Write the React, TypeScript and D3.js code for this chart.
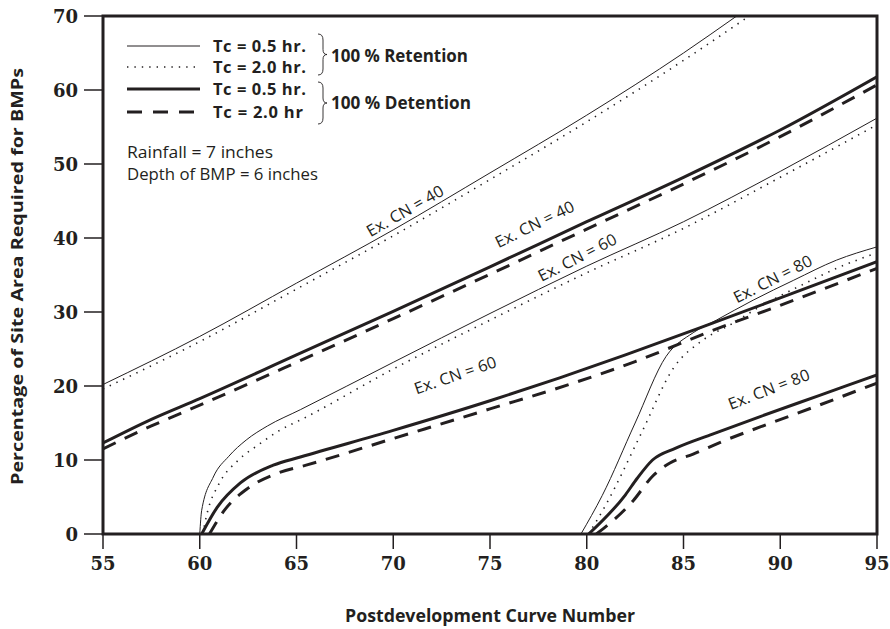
import React from "react";
import * as d3 from "d3";

// ---- Data ----
const xTicks = [55, 60, 65, 70, 75, 80, 85, 90, 95];
const yTicks = [0, 10, 20, 30, 40, 50, 60, 70];

// Existing CN = 40
const cn40RetTc05X = [55, 60, 65, 70, 75, 80, 85, 87.75];
const cn40RetTc05Y = [20.2, 26.7, 33.9, 41.1, 48.8, 56.6, 65.0, 70];
const cn40RetTc20X = [55, 60, 65, 70, 75, 80, 85, 88.4];
const cn40RetTc20Y = [19.6, 26.0, 33.1, 40.3, 47.9, 55.7, 64.0, 70];
const cn40DetTc05X = [55, 57.5, 60, 65, 70, 75, 80, 85, 90, 95];
const cn40DetTc05Y = [12.3, 15.5, 18.3, 24.2, 30.1, 36.1, 42.2, 48.2, 54.6, 61.8];
const cn40DetTc20X = [55, 57.5, 60, 65, 70, 75, 80, 85, 90, 95];
const cn40DetTc20Y = [11.5, 14.6, 17.4, 23.2, 29.1, 35.1, 41.2, 47.3, 53.7, 60.7];

// Existing CN = 60
const cn60RetTc05X = [60, 60.1, 60.7, 61.5, 62.4, 63.5, 65.2, 70, 75, 80, 85, 90, 95];
const cn60RetTc05Y = [0, 3.2, 7.7, 10.5, 12.7, 14.6, 16.8, 23.2, 29.8, 36.2, 42.2, 49.0, 56.2];
const cn60RetTc20X = [60.15, 60.4, 61, 62, 63, 64, 65.5, 70, 75, 80, 85, 90, 95];
const cn60RetTc20Y = [0, 3.0, 6.8, 10.0, 12.0, 13.8, 15.8, 22.3, 28.9, 35.3, 41.3, 48.2, 55.3];
const cn60DetTc05X = [60.1, 60.9, 62.1, 63.8, 65.2, 70, 75, 78.6, 82, 86.5, 90, 95];
const cn60DetTc05Y = [0, 3.6, 6.9, 9.3, 10.4, 14.0, 18.0, 21.1, 24.2, 28.5, 31.9, 36.8];
const cn60DetTc20X = [60.5, 61.3, 62.5, 64, 65.5, 70, 75, 79.2, 82.5, 86.5, 90, 95];
const cn60DetTc20Y = [0, 3.3, 6.2, 8.2, 9.3, 12.9, 16.9, 20.3, 23.3, 27.5, 30.9, 35.9];

// Existing CN = 80
const cn80RetTc05X = [79.7, 80.8, 82.5, 84.1, 85.5, 86.7, 88.6, 90.7, 92.9, 95];
const cn80RetTc05Y = [0, 5.2, 15.0, 24.0, 27.2, 28.9, 31.6, 34.3, 37.0, 38.8];
const cn80RetTc20X = [80.1, 81, 82.8, 84.5, 86, 87.5, 89, 91, 93, 95];
const cn80RetTc20Y = [0, 4.0, 13.5, 22.5, 26.2, 28.4, 30.8, 33.5, 36.0, 38.0];
const cn80DetTc05X = [80.1, 82, 82.6, 83.4, 84.6, 86.5, 89, 92, 95];
const cn80DetTc05Y = [0, 5.3, 7.5, 10.0, 11.6, 13.5, 15.9, 18.7, 21.5];
const cn80DetTc20X = [80.5, 82.4, 83.4, 84.3, 85.5, 87, 89, 92, 95];
const cn80DetTc20Y = [0, 4.5, 7.8, 9.6, 10.8, 12.5, 14.5, 17.4, 20.4];

const curveLabels = ["Ex. CN = 40", "Ex. CN = 40", "Ex. CN = 60", "Ex. CN = 60", "Ex. CN = 80", "Ex. CN = 80"];
const labelX = [70.6, 77.3, 79.5, 73.2, 89.6, 89.4];
const labelY = [43.7, 41.9, 37.4, 21.5, 34.5, 19.6];
const labelAngle = [-30, -26, -27, -19, -27, -21];

const legendLabels = ["Tc = 0.5 hr.", "Tc = 2.0 hr.", "Tc = 0.5 hr.", "Tc = 2.0 hr"];
const groupLabels = ["100 % Retention", "100 % Detention"];
const noteLines = ["Rainfall = 7 inches", "Depth of BMP = 6 inches"];

const xTitle = "Postdevelopment Curve Number";
const yTitle = "Percentage of Site Area Required for BMPs";

type Style = "thin" | "dotted" | "thick" | "dashed";
const styles: Record<Style, { w: number; dash?: string }> = {
  thin: { w: 1 },
  dotted: { w: 1.6, dash: "1.4,6" },
  thick: { w: 3 },
  dashed: { w: 3, dash: "14,10" },
};

const series: { xs: number[]; ys: number[]; s: Style }[] = [
  { xs: cn40RetTc05X, ys: cn40RetTc05Y, s: "thin" },
  { xs: cn40RetTc20X, ys: cn40RetTc20Y, s: "dotted" },
  { xs: cn40DetTc05X, ys: cn40DetTc05Y, s: "thick" },
  { xs: cn40DetTc20X, ys: cn40DetTc20Y, s: "dashed" },
  { xs: cn60RetTc05X, ys: cn60RetTc05Y, s: "thin" },
  { xs: cn60RetTc20X, ys: cn60RetTc20Y, s: "dotted" },
  { xs: cn60DetTc05X, ys: cn60DetTc05Y, s: "thick" },
  { xs: cn60DetTc20X, ys: cn60DetTc20Y, s: "dashed" },
  { xs: cn80RetTc05X, ys: cn80RetTc05Y, s: "thin" },
  { xs: cn80RetTc20X, ys: cn80RetTc20Y, s: "dotted" },
  { xs: cn80DetTc05X, ys: cn80DetTc05Y, s: "thick" },
  { xs: cn80DetTc20X, ys: cn80DetTc20Y, s: "dashed" },
];
const legendStyles: Style[] = ["thin", "dotted", "thick", "dashed"];

const W = 890;
const H = 629;
const L = 103, R = 877, T = 16, B = 534;
const sans = "'Open Sans', Lato, sans-serif";
const serif = "'DejaVu Serif', serif";
const ink = "#231f20";

function brace(x: number, y0: number, y1: number) {
  const m = (y0 + y1) / 2;
  const w = 5;
  return `M${x},${y0} Q${x + w},${y0} ${x + w},${y0 + 6} L${x + w},${m - 5} Q${x + w},${m} ${x + w + 4},${m} Q${x + w},${m} ${x + w},${m + 5} L${x + w},${y1 - 6} Q${x + w},${y1} ${x},${y1}`;
}

export default function App() {
  const x = d3.scaleLinear().domain([55, 95]).range([L, R]);
  const y = d3.scaleLinear().domain([0, 70]).range([B, T]);
  const line = d3
    .line<[number, number]>()
    .x((d) => x(d[0]))
    .y((d) => y(d[1]))
    .curve(d3.curveMonotoneX);

  const legendY = [46, 67, 89, 112];
  const legendLen = [93, 93, 93, 90];
  const noteLen = [146, 191];

  return (
    <svg width={W} height={H} style={{ position: "absolute", left: 0, top: 0, background: "#fff" }}>
      <defs>
        <clipPath id="plot">
          <rect x={L} y={T} width={R - L} height={B - T} />
        </clipPath>
      </defs>
      <rect x={0} y={0} width={W} height={H} fill="#fff" />

      {/* curves */}
      <g clipPath="url(#plot)">
        {series.map((sr, i) => {
          const st = styles[sr.s];
          const pts = sr.xs.map((v, j) => [v, sr.ys[j]] as [number, number]);
          return (
            <path
              key={i}
              d={line(pts) || ""}
              fill="none"
              stroke={ink}
              strokeWidth={st.w}
              strokeDasharray={st.dash}
            />
          );
        })}
      </g>

      {/* frame */}
      <rect x={L} y={T} width={R - L} height={B - T} fill="none" stroke={ink} strokeWidth={3} />

      {/* y ticks */}
      {yTicks.map((t) => (
        <g key={"y" + t}>
          <line x1={84} x2={L} y1={y(t)} y2={y(t)} stroke={ink} strokeWidth={1.5} />
          <text x={78} y={y(t) + 6.5} textAnchor="end" fontFamily={serif} fontWeight="bold" fontSize={18} fill={ink}>
            {t}
          </text>
        </g>
      ))}
      {/* x ticks */}
      {xTicks.map((t) => (
        <g key={"x" + t}>
          <line x1={x(t)} x2={x(t)} y1={B} y2={B + 15} stroke={ink} strokeWidth={1.5} />
          <text x={x(t)} y={570} textAnchor="middle" fontFamily={serif} fontWeight="bold" fontSize={18} fill={ink}>
            {t}
          </text>
        </g>
      ))}

      {/* axis titles */}
      <text
        x={345}
        y={622}
        fontFamily={sans}
        fontWeight="bold"
        fontSize={17}
        textLength={290}
        lengthAdjust="spacingAndGlyphs"
        fill={ink}
      >
        {xTitle}
      </text>
      <text
        transform={`translate(23,${485}) rotate(-90)`}
        fontFamily={sans}
        fontWeight="bold"
        fontSize={16}
        textLength={417}
        lengthAdjust="spacingAndGlyphs"
        fill={ink}
      >
        {yTitle}
      </text>

      {/* curve labels */}
      {curveLabels.map((lab, i) => (
        <text
          key={"l" + i}
          transform={`translate(${x(labelX[i])},${y(labelY[i])}) rotate(${labelAngle[i]})`}
          textAnchor="middle"
          dominantBaseline="central"
          fontFamily={sans}
          fontSize={16}
          fontWeight={400}
          textLength={86}
          lengthAdjust="spacingAndGlyphs"
          fill={ink}
        >
          {lab}
        </text>
      ))}

      {/* legend */}
      {legendStyles.map((s, i) => {
        const st = styles[s];
        return (
          <g key={"lg" + i}>
            <line
              x1={127}
              x2={200}
              y1={legendY[i]}
              y2={legendY[i]}
              stroke={ink}
              strokeWidth={st.w}
              strokeDasharray={s === "dashed" ? "15,11" : st.dash}
            />
            <text
              x={213}
              y={legendY[i] + 6}
              fontFamily={sans}
              fontWeight="bold"
              fontSize={16.5}
              textLength={legendLen[i]}
              lengthAdjust="spacing"
              fill={ink}
            >
              {legendLabels[i]}
            </text>
          </g>
        );
      })}
      <path d={brace(318, 34, 75)} fill="none" stroke={ink} strokeWidth={0.9} />
      <path d={brace(318, 82, 124)} fill="none" stroke={ink} strokeWidth={0.9} />
      <text x={331} y={62} fontFamily={sans} fontWeight="bold" fontSize={17} textLength={137} lengthAdjust="spacingAndGlyphs" fill={ink}>
        {groupLabels[0]}
      </text>
      <text x={331} y={109} fontFamily={sans} fontWeight="bold" fontSize={17} textLength={140} lengthAdjust="spacingAndGlyphs" fill={ink}>
        {groupLabels[1]}
      </text>
      {noteLines.map((t, i) => (
        <text
          key={"n" + i}
          x={127}
          y={158 + i * 22}
          fontFamily={sans}
          fontSize={16.5}
          textLength={noteLen[i]}
          lengthAdjust="spacingAndGlyphs"
          fill={ink}
        >
          {t}
        </text>
      ))}
    </svg>
  );
}
